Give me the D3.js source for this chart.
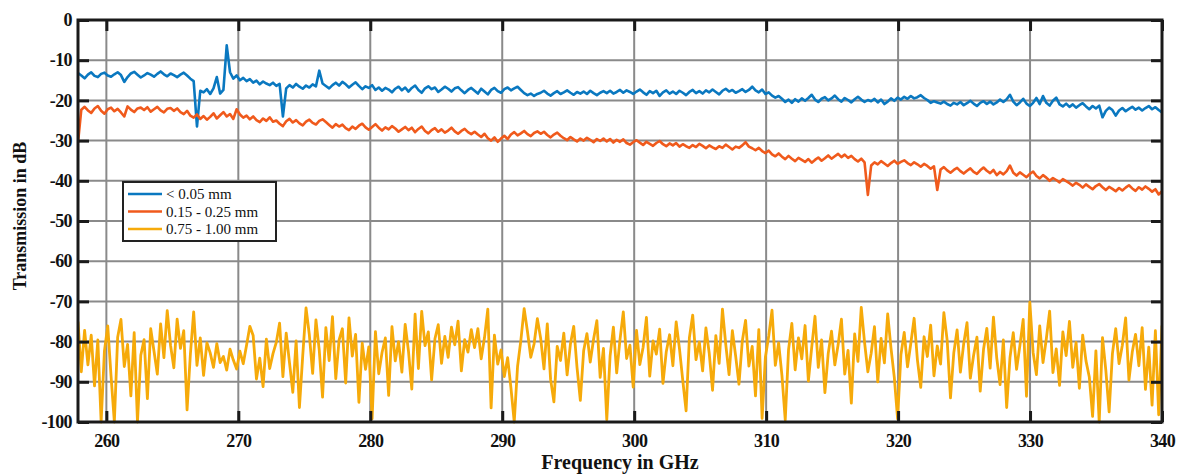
<!DOCTYPE html>
<html>
<head>
<meta charset="utf-8">
<script src="https://cdn.jsdelivr.net/npm/d3@7"></script>
<style>
  html, body { margin: 0; padding: 0; background: #fff; }
  svg { display: block; }
  text { font-family: "Liberation Serif", "DejaVu Serif", serif; }
</style>
</head>
<body>
<div id="chart"></div>
<script>
// Frequency sweep (GHz); each trace is sampled evenly across it.
const F_START = 257.85;
const F_END = 340;

const xTicks = [260, 270, 280, 290, 300, 310, 320, 330, 340];
const yTicks = [0, -10, -20, -30, -40, -50, -60, -70, -80, -90, -100];

const seriesNames = ["< 0.05 mm", "0.15 - 0.25 mm", "0.75 - 1.00 mm"];
const seriesColors = ["#0a78c0", "#f05a1c", "#f6aa0a"];

// Transmission in dB, thinnest sample
const thin = [
  -13.2,-13.8,-14.5,-13.6,-13.0,-13.9,-14.2,-13.4,-13.1,-13.8,-14.1,-13.5,-13.0,-13.7,-15.4,-14.2,-13.3,-12.9,-13.6,-14.3,
  -13.8,-13.2,-13.6,-14.1,-13.4,-12.8,-13.5,-14.0,-13.3,-13.7,-14.2,-13.6,-13.1,-13.8,-14.6,-15.2,-26.5,-17.6,-18.0,-17.2,
  -18.4,-17.0,-14.2,-18.3,-17.4,-6.3,-13.0,-14.6,-13.8,-15.0,-14.4,-15.2,-14.7,-15.6,-15.1,-16.0,-15.3,-15.8,-16.2,-15.6,
  -16.4,-15.9,-24.0,-17.0,-16.2,-16.8,-15.9,-16.6,-17.1,-16.3,-16.8,-16.0,-16.5,-12.6,-15.8,-16.4,-17.0,-16.2,-15.6,-16.3,
  -15.4,-16.0,-16.8,-16.1,-15.5,-16.4,-17.2,-16.5,-16.9,-16.2,-17.4,-16.8,-17.6,-16.9,-17.3,-18.0,-17.1,-16.6,-17.5,-16.8,
  -17.8,-16.9,-16.3,-17.4,-18.1,-17.0,-16.5,-17.2,-16.8,-17.9,-17.3,-16.6,-17.1,-17.8,-17.0,-16.7,-17.5,-18.2,-17.4,-16.9,
  -17.6,-18.3,-17.1,-17.8,-18.5,-17.4,-16.9,-17.7,-18.1,-17.2,-16.8,-17.5,-17.0,-16.6,-17.4,-18.2,-18.7,-18.3,-18.9,-18.4,
  -18.1,-17.6,-18.3,-18.8,-18.2,-17.7,-18.4,-18.0,-17.5,-18.1,-18.6,-17.9,-18.3,-17.8,-18.4,-17.6,-18.2,-18.7,-18.1,-17.7,
  -18.2,-17.6,-18.3,-17.9,-17.4,-18.1,-17.5,-17.9,-18.4,-17.8,-17.3,-18.0,-18.6,-17.7,-18.2,-17.6,-18.9,-18.0,-17.5,-18.3,
  -17.8,-18.4,-17.6,-18.1,-18.7,-17.9,-17.4,-18.2,-17.7,-18.3,-17.5,-18.0,-17.3,-17.9,-18.5,-17.6,-17.1,-17.8,-17.4,-18.1,
  -17.7,-17.2,-17.9,-17.4,-16.6,-17.5,-18.0,-17.3,-18.4,-18.0,-18.8,-19.3,-18.9,-19.6,-20.4,-19.8,-20.6,-19.7,-20.3,-19.5,
  -20.1,-19.4,-18.6,-19.8,-20.4,-19.6,-19.2,-20.0,-19.5,-18.8,-19.7,-20.3,-19.4,-19.9,-20.5,-19.7,-19.1,-19.8,-20.4,-19.9,
  -20.2,-19.6,-20.5,-19.8,-20.9,-20.3,-19.5,-20.1,-19.3,-19.8,-19.1,-19.6,-18.9,-19.5,-19.2,-18.7,-19.4,-19.9,-20.6,-20.2,
  -20.5,-20.8,-20.3,-20.9,-21.3,-20.6,-21.0,-20.4,-21.2,-20.7,-20.1,-20.8,-21.4,-20.6,-20.2,-20.9,-20.3,-21.0,-20.5,-19.8,
  -20.4,-19.7,-18.6,-20.3,-21.2,-20.5,-19.6,-20.8,-21.4,-20.6,-19.4,-20.9,-18.9,-20.6,-21.3,-20.1,-19.3,-21.0,-21.5,-20.8,
  -21.6,-21.0,-21.8,-21.2,-20.7,-21.5,-22.2,-21.4,-22.0,-21.3,-24.2,-22.6,-21.8,-22.4,-23.8,-22.5,-21.9,-22.7,-22.1,-21.6,
  -22.3,-21.8,-22.5,-21.9,-21.4,-22.2,-21.7,-22.4,-23.0
];

// Transmission in dB, medium sample
const medium = [
  -30.5,-22.3,-21.6,-22.5,-23.1,-22.0,-21.4,-22.6,-23.3,-22.2,-21.8,-22.7,-22.1,-23.0,-24.0,-21.5,-22.3,-22.9,-22.0,-21.8,
  -22.4,-21.7,-22.8,-22.2,-21.6,-22.5,-23.0,-22.1,-21.9,-22.6,-22.0,-22.9,-23.4,-22.6,-23.8,-24.3,-23.5,-24.6,-23.9,-24.8,
  -24.1,-23.2,-24.5,-23.7,-22.9,-24.0,-23.4,-24.6,-22.2,-23.5,-24.3,-23.8,-24.7,-24.0,-24.9,-25.4,-24.5,-25.1,-24.2,-25.3,
  -25.0,-25.8,-26.4,-25.2,-24.6,-25.5,-24.9,-25.7,-26.2,-25.3,-24.8,-25.6,-26.0,-25.1,-24.7,-25.4,-26.1,-26.8,-25.9,-26.5,
  -26.0,-26.9,-27.4,-26.5,-27.1,-26.3,-25.8,-26.7,-27.3,-26.6,-25.9,-26.8,-27.5,-26.7,-27.2,-26.4,-27.0,-27.8,-27.2,-26.6,
  -27.4,-26.8,-27.9,-27.1,-26.5,-27.6,-28.2,-27.4,-26.9,-27.8,-27.2,-28.0,-27.5,-26.8,-27.7,-28.3,-27.6,-27.1,-27.9,-28.4,
  -27.8,-28.5,-29.1,-28.3,-29.4,-30.0,-29.2,-30.3,-29.5,-28.8,-29.6,-28.5,-27.9,-28.7,-28.2,-27.6,-28.4,-28.9,-28.1,-27.7,
  -28.3,-27.8,-28.6,-29.2,-28.5,-28.0,-28.8,-29.4,-29.9,-29.1,-29.7,-30.2,-29.5,-30.0,-29.3,-29.8,-30.4,-29.6,-30.1,-29.5,
  -30.2,-29.6,-30.5,-29.8,-30.3,-29.7,-30.6,-31.0,-30.4,-29.9,-30.5,-31.1,-30.3,-30.8,-31.3,-30.6,-30.1,-30.9,-31.4,-30.7,
  -31.2,-30.6,-31.5,-30.9,-31.4,-31.8,-31.1,-31.6,-30.8,-31.3,-31.9,-31.2,-31.7,-32.1,-31.4,-31.8,-31.0,-31.6,-32.2,-31.5,
  -31.8,-31.2,-30.4,-31.5,-31.9,-32.4,-31.8,-32.6,-33.1,-32.5,-33.4,-33.9,-33.2,-34.0,-34.6,-33.8,-34.5,-35.1,-34.3,-34.8,
  -35.3,-34.6,-35.5,-34.8,-34.2,-35.0,-34.4,-33.7,-34.5,-33.9,-33.3,-34.1,-33.5,-34.3,-33.8,-34.6,-35.2,-34.5,-35.4,-43.5,
  -36.2,-35.4,-35.9,-35.1,-35.7,-36.3,-35.6,-35.0,-35.8,-35.3,-34.9,-35.6,-36.1,-35.4,-35.9,-36.5,-35.8,-36.3,-37.0,-36.4,
  -42.3,-37.2,-36.6,-37.4,-38.0,-37.3,-36.8,-37.6,-38.2,-37.5,-36.9,-37.8,-38.3,-37.4,-36.7,-37.5,-38.1,-37.3,-38.6,-37.8,
  -38.4,-37.6,-36.2,-38.0,-38.7,-37.9,-38.5,-39.1,-38.3,-37.7,-38.8,-39.4,-38.6,-39.2,-40.0,-39.3,-39.8,-40.4,-39.6,-40.1,
  -40.6,-41.2,-40.5,-41.0,-41.7,-40.9,-41.5,-42.1,-41.3,-40.8,-41.6,-42.3,-41.5,-42.0,-42.6,-41.8,-42.4,-41.7,-41.1,-41.9,
  -42.5,-41.6,-42.2,-41.4,-42.0,-42.7,-42.1,-43.4,-42.6
];

// Transmission in dB, thickest sample (noise floor)
const thick = [
  -75.0,-87.5,-77.2,-85.8,-78.4,-91.0,-79.6,-100.0,-82.3,-76.1,-88.6,-100.0,-78.9,-74.5,-86.2,-80.7,-93.5,-77.8,-100.0,-83.4,
  -79.5,-94.2,-76.8,-82.4,-88.1,-75.6,-84.0,-72.3,-80.9,-86.5,-74.4,-81.7,-77.3,-97.0,-83.2,-72.6,-85.9,-79.1,-88.4,-80.3,
  -82.8,-86.4,-80.5,-85.2,-83.7,-87.1,-81.9,-84.6,-86.8,-82.4,-85.5,-80.9,-76.2,-78.5,-89.3,-84.1,-91.2,-79.4,-86.7,-83.0,
  -80.2,-75.4,-88.7,-77.9,-85.3,-92.6,-79.8,-96.4,-83.5,-71.6,-78.3,-87.9,-74.6,-82.1,-93.8,-76.5,-84.7,-73.8,-89.2,-79.6,
  -76.8,-90.3,-74.1,-83.6,-78.2,-95.1,-80.4,-86.9,-81.3,-99.2,-77.5,-88.0,-82.7,-79.1,-93.4,-76.3,-84.8,-80.0,-87.6,-75.7,
  -82.4,-91.8,-73.2,-86.7,-72.5,-81.0,-77.6,-89.5,-79.3,-75.8,-85.4,-78.7,-83.9,-76.4,-80.8,-74.9,-87.3,-79.5,-82.6,-77.0,
  -81.5,-76.8,-84.3,-79.0,-71.9,-96.5,-78.4,-85.6,-82.1,-88.7,-84.0,-91.5,-100.0,-86.2,-79.7,-71.8,-77.5,-83.9,-80.6,-74.3,
  -79.2,-86.8,-75.6,-89.4,-95.0,-81.2,-84.7,-77.9,-88.3,-80.6,-76.2,-86.5,-94.6,-82.3,-78.0,-85.1,-79.4,-74.8,-88.9,-81.7,
  -99.4,-83.6,-76.4,-87.8,-79.5,-72.6,-84.2,-80.9,-91.3,-77.2,-85.7,-81.4,-74.0,-88.6,-79.8,-83.1,-76.9,-90.4,-82.5,-78.3,
  -86.0,-75.1,-81.8,-89.7,-97.2,-79.0,-73.4,-84.5,-80.1,-87.3,-76.6,-82.9,-92.1,-78.5,-85.4,-71.9,-80.7,-88.2,-77.3,-83.6,
  -90.6,-79.9,-74.7,-86.1,-81.2,-93.5,-77.0,-99.1,-83.8,-78.6,-72.2,-85.9,-80.3,-88.4,-99.5,-82.0,-75.5,-87.0,-79.1,-84.3,
  -76.0,-89.8,-81.5,-73.7,-86.4,-79.6,-92.7,-83.0,-77.4,-85.8,-80.8,-74.4,-88.1,-82.2,-95.3,-78.1,-84.9,-71.5,-80.2,-87.5,
  -82.9,-76.3,-90.0,-79.2,-85.3,-73.1,-81.6,-88.9,-99.2,-83.3,-77.7,-86.3,-80.4,-74.2,-84.6,-91.4,-78.8,-83.7,-75.9,-88.5,
  -81.1,-85.6,-72.8,-79.7,-94.0,-82.8,-77.1,-87.6,-80.5,-75.3,-89.1,-83.4,-78.9,-92.3,-81.9,-76.7,-86.6,-73.9,-84.1,-90.7,
  -79.6,-96.4,-84.0,-77.8,-86.9,-81.0,-74.5,-93.6,-70.2,-82.7,-88.2,-76.1,-85.2,-79.3,-72.4,-87.7,-81.8,-90.9,-77.6,-83.5,
  -75.0,-86.4,-80.2,-91.6,-78.4,-84.8,-88.8,-98.6,-82.3,-100.0,-79.0,-87.1,-97.5,-83.0,-76.8,-85.5,-80.9,-74.1,-89.6,-82.6,
  -78.2,-86.0,-76.5,-91.9,-81.4,-95.8,-77.3,-98.2,-76.0
];

const W = 1183, H = 475;
const margin = { left: 78, right: 21, top: 20, bottom: 53 };
const innerW = W - margin.left - margin.right;
const innerH = H - margin.top - margin.bottom;

const svg = d3.select("#chart").append("svg")
  .attr("width", W).attr("height", H);

const g = svg.append("g")
  .attr("transform", `translate(${margin.left},${margin.top})`);

const x = d3.scaleLinear().domain([F_START, F_END]).range([0, innerW]);
const y = d3.scaleLinear().domain([-100, 0]).range([innerH, 0]);

// Background grid
const gridColor = "#8a8a8a";
g.append("g").selectAll("line").data(xTicks).join("line")
  .attr("x1", d => x(d)).attr("x2", d => x(d))
  .attr("y1", 0).attr("y2", innerH)
  .attr("stroke", gridColor).attr("stroke-width", 2);
g.append("g").selectAll("line").data(yTicks).join("line")
  .attr("x1", 0).attr("x2", innerW)
  .attr("y1", d => y(d)).attr("y2", d => y(d))
  .attr("stroke", gridColor).attr("stroke-width", 2);

// Traces
g.append("clipPath").attr("id", "plot-clip")
  .append("rect").attr("x", 0).attr("y", -2).attr("width", innerW).attr("height", innerH + 4);

const traces = [thin, medium, thick];
const line = d3.line()
  .x(d => x(d.f))
  .y(d => y(d.v));

const traceLayer = g.append("g").attr("clip-path", "url(#plot-clip)");
traces.forEach((vals, k) => {
  const n = vals.length;
  const pts = vals.map((v, i) => ({ f: F_START + i * (F_END - F_START) / (n - 1), v }));
  traceLayer.append("path")
    .datum(pts)
    .attr("fill", "none")
    .attr("stroke", seriesColors[k])
    .attr("stroke-width", k === 2 ? 2.8 : 2.6)
    .attr("stroke-linejoin", "round")
    .attr("d", line);
});

// Axes with inward ticks on all four sides
const tickLen = 11;
const axisColor = "#1a1a1a";

const axisB = d3.axisBottom(x).tickValues(xTicks).tickSize(-tickLen).tickPadding(12).tickFormat(d3.format("d"));
const axisT = d3.axisTop(x).tickValues(xTicks).tickSize(-tickLen).tickFormat("");
const axisL = d3.axisLeft(y).tickValues(yTicks).tickSize(-tickLen).tickPadding(6).tickFormat(d => String(d));
const axisR = d3.axisRight(y).tickValues(yTicks).tickSize(-tickLen).tickFormat("");

function styleAxis(sel) {
  sel.select(".domain").remove();
  sel.selectAll(".tick line").attr("stroke", axisColor).attr("stroke-width", 3);
  sel.selectAll(".tick text")
    .attr("fill", "#111")
    .style("font-family", "'Liberation Serif', 'DejaVu Serif', serif")
    .style("font-weight", "bold")
    .style("font-size", "18px")
    .style("letter-spacing", "-0.6px");
}

g.append("g").attr("transform", `translate(0,${innerH})`).call(axisB).call(styleAxis);
g.append("g").call(axisT).call(styleAxis);
g.append("g").call(axisL).call(styleAxis);
g.append("g").attr("transform", `translate(${innerW},0)`).call(axisR).call(styleAxis);

// Frame
g.append("rect")
  .attr("x", 0).attr("y", 0).attr("width", innerW).attr("height", innerH)
  .attr("fill", "none").attr("stroke", axisColor).attr("stroke-width", 3);

// Axis titles
svg.append("text")
  .attr("x", margin.left + innerW / 2).attr("y", 469)
  .attr("text-anchor", "middle")
  .style("font-weight", "bold").style("font-size", "20px")
  .attr("fill", "#111")
  .text("Frequency in GHz");

svg.append("text")
  .attr("transform", `translate(26,${margin.top + innerH / 2 - 5}) rotate(-90)`)
  .attr("text-anchor", "middle")
  .style("font-weight", "bold").style("font-size", "18px")
  .attr("fill", "#111")
  .text("Transmission in dB");

// Legend
const legend = svg.append("g").attr("transform", "translate(123,182)");
legend.append("rect")
  .attr("width", 153).attr("height", 59)
  .attr("fill", "#fff").attr("stroke", "#222").attr("stroke-width", 2);
seriesNames.forEach((name, k) => {
  const ly = 12 + k * 17.5;
  legend.append("line")
    .attr("x1", 5).attr("x2", 39).attr("y1", ly).attr("y2", ly)
    .attr("stroke", seriesColors[k]).attr("stroke-width", 2.6);
  legend.append("text")
    .attr("x", 43).attr("y", ly + 5)
    .style("font-size", "15px").attr("fill", "#111")
    .text(name);
});
</script>
</body>
</html>
